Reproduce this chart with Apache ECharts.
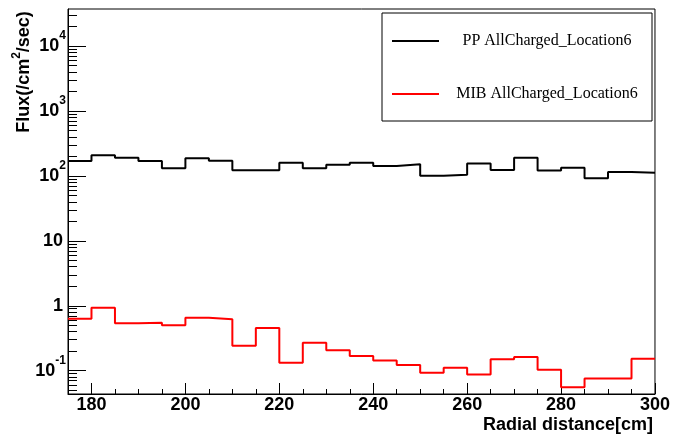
<!DOCTYPE html>
<html><head><meta charset="utf-8">
<script src="https://cdn.jsdelivr.net/npm/echarts@6/dist/echarts.min.js"></script>
<style>html,body{margin:0;padding:0;background:#fff}#c{width:673px;height:434px}</style>
</head><body><div id="c"></div>
<script>
// Bin edges (cm) and per-bin flux values (/cm^2/sec)
const binEdges = [175,180,185,190,195,200,205,210,215,220,225,230,235,240,245,250,255,260,265,270,275,280,285,290,295,300];
const ppFlux  = [170,208,191,170,131,187,172,122,122,160,131,149,160,143,151,101,104,155,124,191,121,134,92,115,112];
const mibFlux = [0.633,0.935,0.537,0.549,0.501,0.656,0.619,0.243,0.455,0.133,0.270,0.206,0.169,0.143,0.122,0.093,0.111,0.087,0.150,0.163,0.103,0.0555,0.076,0.076,0.153];
const seriesNames = ['PP AllCharged_Location6','MIB AllCharged_Location6'];
const xMajorTicks = [180,200,220,240,260,280,300];
const xMinorTicks = [185,190,195,205,210,215,225,230,235,245,250,255,265,270,275,285,290,295];
const yMajorTicks = [0.1,1,10,100,1000,10000];
const yMinorTicks = [0.05,0.06,0.07,0.08,0.09,0.2,0.3,0.4,0.5,0.6,0.7,0.8,0.9,2,3,4,5,6,7,8,9,20,30,40,50,60,70,80,90,200,300,400,500,600,700,800,900,2000,3000,4000,5000,6000,7000,8000,9000,20000,30000];
const yLabelText = {'0.1':'{b|10}{s|-1}','1':'{p|1}','10':'{p|10}','100':'{b|10}{s|2}','1000':'{b|10}{s|3}','10000':'{b|10}{s|4}'};

function stepData(vals){ return binEdges.map((x,i)=>[x, vals[Math.min(i, vals.length-1)]]); }

const FONT = 'Liberation Sans, Arial, sans-serif';
const yMin = 0.0437, yMax = 37400;
const chart = echarts.init(document.getElementById('c'), null, {renderer:'canvas'});
chart.setOption({
  animation:false,
  backgroundColor:'#fff',
  grid:{left:68,right:14,top:9,bottom:40,show:true,borderColor:'#000',borderWidth:1,backgroundColor:'transparent'},
  legend:{
    orient:'vertical', left:382, top:13, padding:[20,2,19,10], itemGap:37,
    itemWidth:47, itemHeight:2, icon:'rect',
    borderColor:'#000', borderWidth:1, backgroundColor:'#fff',
    data:seriesNames,
    formatter:n=>'{t|'+n+'}',
    textStyle:{rich:{t:{width:206,align:'center',fontFamily:'Liberation Serif, Times New Roman, serif',fontSize:16,lineHeight:20,color:'#000'}}}
  },
  xAxis:[
    {type:'value',min:175,max:300,position:'bottom',
     axisLine:{show:true,lineStyle:{color:'#000',width:1}},
     axisTick:{show:true,inside:true,length:11,customValues:xMajorTicks,lineStyle:{color:'#000',width:1}},
     axisLabel:{customValues:xMajorTicks,margin:2,color:'#000',fontFamily:FONT,fontWeight:'bold',fontSize:18},
     splitLine:{show:false}},
    {type:'value',min:175,max:300,position:'bottom',
     axisLine:{show:false},
     axisTick:{show:true,inside:true,length:5,customValues:xMinorTicks,lineStyle:{color:'#000',width:1}},
     axisLabel:{show:false},splitLine:{show:false}}
  ],
  yAxis:[
    {type:'log',logBase:10,min:yMin,max:yMax,position:'left',
     axisLine:{show:true,lineStyle:{color:'#000',width:1}},
     axisTick:{show:true,inside:true,length:18,customValues:yMajorTicks,lineStyle:{color:'#000',width:1}},
     axisLabel:{customValues:yMajorTicks,margin:2,color:'#000',
       formatter:v=>{const k=String(+v.toPrecision(6));return yLabelText[k]||'';},
       rich:{
         b:{fontFamily:FONT,fontWeight:'bold',fontSize:18,lineHeight:32,color:'#000'},
         s:{fontFamily:FONT,fontWeight:'bold',fontSize:12,lineHeight:12,verticalAlign:'top',color:'#000'},
         p:{fontFamily:FONT,fontWeight:'bold',fontSize:18,lineHeight:32,padding:[0,3,0,0],color:'#000'}
       }},
     splitLine:{show:false}},
    {type:'log',logBase:10,min:yMin,max:yMax,position:'left',
     axisLine:{show:false},
     axisTick:{show:true,inside:true,length:9,customValues:yMinorTicks,lineStyle:{color:'#000',width:1}},
     axisLabel:{show:false},splitLine:{show:false}}
  ],
  graphic:[
    {type:'text',x:24,y:72,rotation:Math.PI/2,
     style:{text:'{a|Flux(/cm}{s|2}{a|/sec)}',align:'center',verticalAlign:'middle',
       rich:{a:{fontFamily:FONT,fontWeight:'bold',fontSize:18,lineHeight:26,fill:'#000'},
             s:{fontFamily:FONT,fontWeight:'bold',fontSize:12,lineHeight:12,verticalAlign:'top',fill:'#000'}}}},
    {type:'text',x:653,y:425,
     style:{text:'Radial distance[cm]',align:'right',verticalAlign:'middle',fontFamily:FONT,fontWeight:'bold',fontSize:18,fill:'#000'}}
  ],
  series:[
    {name:seriesNames[0],type:'line',step:'end',data:stepData(ppFlux),xAxisIndex:0,yAxisIndex:0,
     symbol:'none',showSymbol:false,lineStyle:{color:'#000',width:2},itemStyle:{color:'#000'}},
    {name:seriesNames[1],type:'line',step:'end',data:stepData(mibFlux),xAxisIndex:0,yAxisIndex:0,
     symbol:'none',showSymbol:false,lineStyle:{color:'#ff0000',width:2},itemStyle:{color:'#ff0000'}}
  ]
});
</script></body></html>
